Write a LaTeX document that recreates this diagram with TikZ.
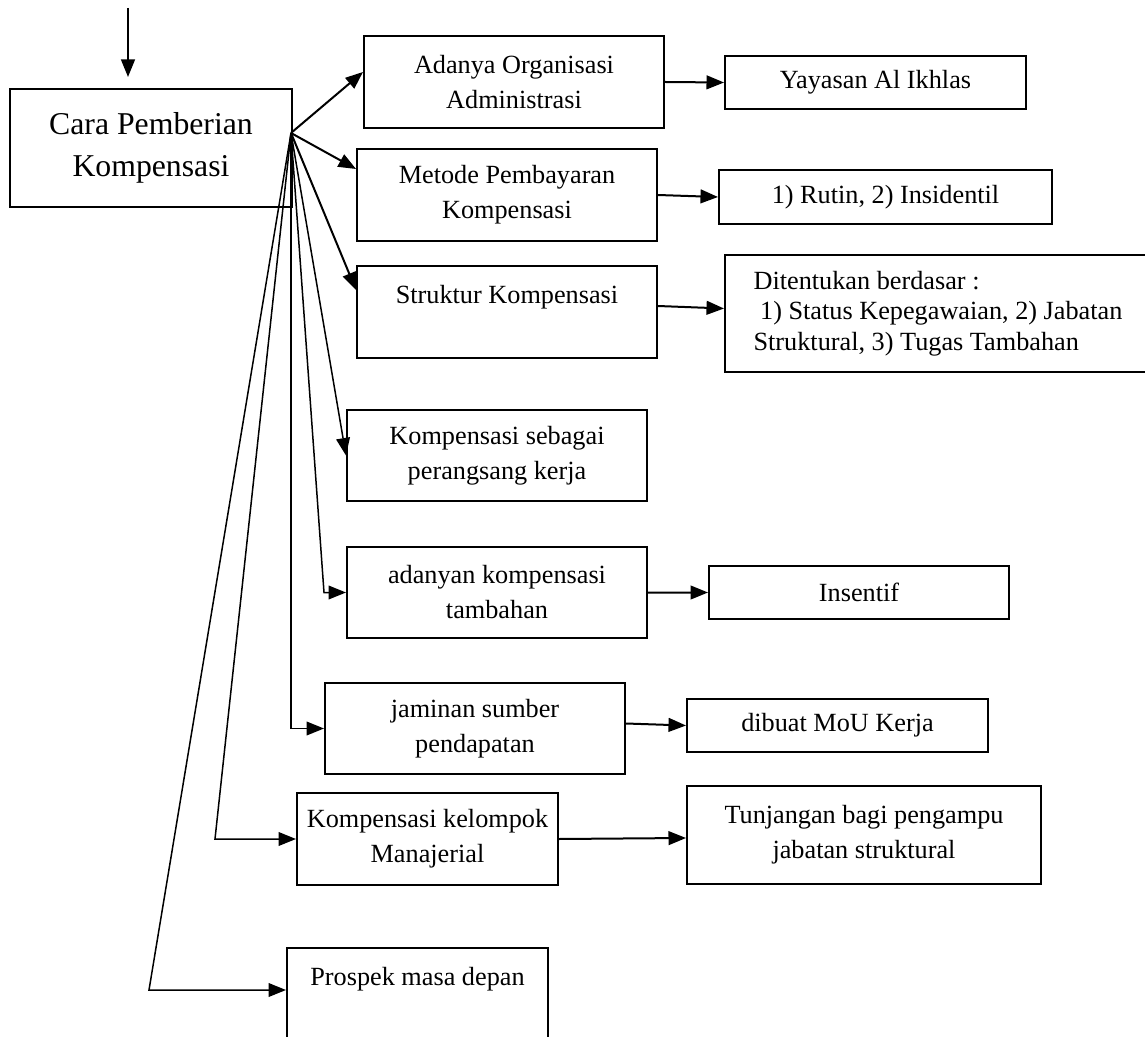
\documentclass[tikz,border=0pt]{standalone}
\usepackage{fontspec}
\setmainfont{Liberation Serif}
\usetikzlibrary{arrows.meta, positioning}

\begin{document}
\begin{tikzpicture}[
  x=0.4pt, y=-0.4pt,
  every node/.style={align=center},
  % Boxes - plain rectangles, text set in Times
  box/.style={rectangle, draw=black, line width=0.8pt, anchor=north west, inner sep=2pt, font=\fontsize{10.5}{14}\selectfont},
  % Edges - straight lines with filled triangle tips
  edge/.style={-{Triangle[length=7pt, width=5.5pt]}, line width=0.8pt, draw=black},
  fan/.style={-{Triangle[length=7pt, width=5.5pt]}, line width=0.6pt, draw=black}
]
\useasboundingbox (0,0) rectangle (1145,1037);

% === NODES ===

% Main box
\node[box, minimum width=112.8pt, minimum height=47.2pt, font=\fontsize{12.7}{16.8}\selectfont] (main) at (9,88) {Cara Pemberian\\Kompensasi};

% Middle column
\node[box, minimum width=120pt, minimum height=36.8pt] (adm) at (363,35) {Adanya Organisasi\\Administrasi};
\node[box, minimum width=120pt, minimum height=36.8pt] (bayar) at (356,148) {Metode Pembayaran\\Kompensasi};
\node[box, minimum width=120pt, minimum height=36.8pt] (struktur) at (356,265) {Struktur Kompensasi\\~};
\node[box, minimum width=120pt, minimum height=36.4pt] (perangsang) at (346,409) {Kompensasi sebagai\\perangsang kerja};
\node[box, minimum width=120pt, minimum height=36.4pt] (tambahan) at (346,546) {adanyan kompensasi\\tambahan};
\node[box, minimum width=120pt, minimum height=36.4pt] (jaminan) at (324,682) {jaminan sumber\\pendapatan};
\node[box, minimum width=104.4pt, minimum height=36.8pt] (manajerial) at (296,792) {Kompensasi kelompok\\Manajerial};
\node[box, minimum width=104.4pt, minimum height=36.8pt] (prospek) at (286,947) {Prospek masa depan\\~};

% Right column
\node[box, minimum width=120.4pt, minimum height=21.2pt] (yayasan) at (724,55) {Yayasan Al Ikhlas};
\node[box, minimum width=133.2pt, minimum height=21.6pt] (rutin) at (718,169) {1) Rutin, 2) Insidentil};
\node[box, minimum width=170.4pt, minimum height=46.8pt, align=left, font=\fontsize{10.5}{12.2}\selectfont] (tentu) at (724,254) {Ditentukan berdasar :\\\ 1) Status Kepegawaian, 2) Jabatan\\Struktural, 3) Tugas Tambahan};
\node[box, minimum width=120pt, minimum height=21.2pt] (insentif) at (708,565) {Insentif};
\node[box, minimum width=120.4pt, minimum height=21.2pt] (mou) at (686,698) {dibuat MoU Kerja};
\node[box, minimum width=141.6pt, minimum height=39.2pt] (tunjangan) at (686,785) {Tunjangan bagi pengampu\\jabatan struktural};

% === EDGES ===

% Incoming arrow
\coordinate (entry) at (128,8);
\draw[edge, shorten >=4.4pt] (entry) -- (entry |- main.north);

% Fan from the main box
\coordinate (fanpt) at (291,133);
\draw[edge] (fanpt) -- ([yshift=4pt]adm.west);
\draw[edge] (fanpt) -- ([yshift=10.4pt]bayar.west);
\draw[edge] (fanpt) -- ([yshift=8.8pt]struktur.west);
\draw[fan] (fanpt) -- (perangsang.west);
\draw[fan] (fanpt) -- ([xshift=-8.8pt]tambahan.west) -- (tambahan.west);
\draw[fan] (fanpt) |- (jaminan.west);
\draw[fan] (fanpt) -- ([xshift=-32.4pt]manajerial.west) -- (manajerial.west);
\draw[fan] (fanpt) -- ([xshift=-54.8pt, yshift=1.6pt]prospek.west) -- ([yshift=1.6pt]prospek.west);

% Middle to right
\draw[edge] (adm.east) -- (yayasan.west);
\draw[edge] (bayar.east) -- (rutin.west);
\draw[edge] ([yshift=2.4pt]struktur.east) -- ([yshift=2pt]tentu.west);
\draw[edge] (tambahan.east) -- (insentif.west);
\draw[edge] ([yshift=2pt]jaminan.east) -- (mou.west);
\draw[edge] (manajerial.east) -- ([yshift=-1.2pt]tunjangan.west);

\end{tikzpicture}
\end{document}
